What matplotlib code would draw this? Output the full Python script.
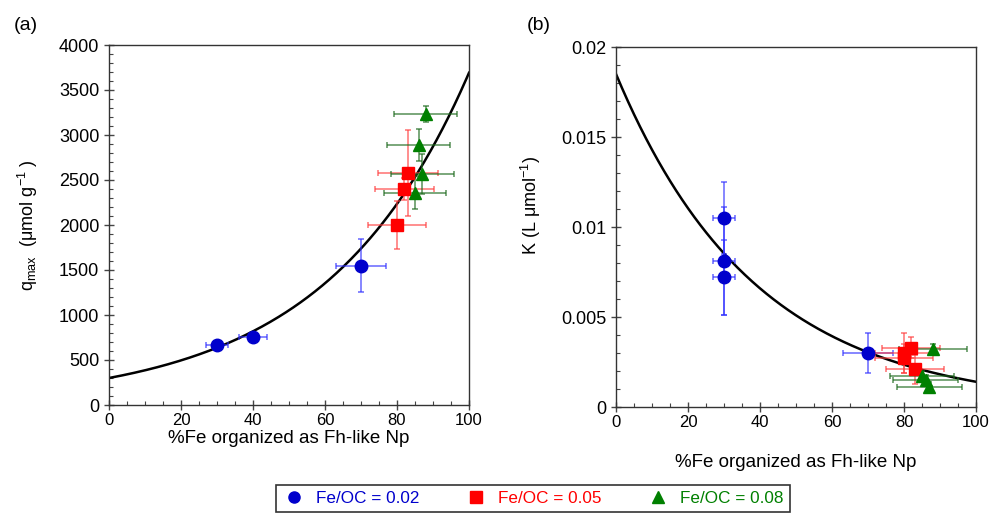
import numpy as np
import matplotlib
matplotlib.use('Agg')
import matplotlib.pyplot as plt
from matplotlib.lines import Line2D
from matplotlib.ticker import MultipleLocator, FormatStrFormatter

plt.rcParams['font.family'] = ['Liberation Sans', 'DejaVu Sans']

# --- panel (a): q_max ---
qa_blue_x = [30, 40, 70]
qa_blue_y = [670, 760, 1550]
qa_blue_xerr = [3, 4, 7]
qa_blue_yerr = [35, 20, 295]

qa_red_x = [80, 82, 83]
qa_red_y = [2000, 2400, 2580]
qa_red_xerr = [8, 8.2, 8.3]
qa_red_yerr = [265, 120, 475]

qa_green_x = [85, 86, 87, 88]
qa_green_y = [2360, 2890, 2570, 3230]
qa_green_xerr = [8.7, 8.7, 8.7, 8.8]
qa_green_yerr = [180, 175, 220, 90]

# --- panel (b): K ---
kb_blue_x = [30, 30, 30, 70]
kb_blue_y = [0.0105, 0.0081, 0.0072, 0.0030]
kb_blue_xerr = [3, 3, 3, 7]
kb_blue_yerr = [0.002, 0.003, 0.0021, 0.0011]

kb_red_x = [80, 80, 82, 83]
kb_red_y = [0.0030, 0.0027, 0.0033, 0.0021]
kb_red_xerr = [8, 8, 8, 8]
kb_red_yerr = [0.0011, 0.0008, 0.0006, 0.0008]

kb_green_x = [85, 86, 87, 88]
kb_green_y = [0.0017, 0.0015, 0.0011, 0.0032]
kb_green_xerr = [8.9, 9, 9, 9.5]
kb_green_yerr = [0.0003, 0.0003, 0.0003, 0.0003]

# exponential fits
q_fit_a, q_fit_b = 300, 0.0251
k_fit_a, k_fit_b = 0.0185, -0.0258

labels = ['Fe/OC = 0.02', 'Fe/OC = 0.05', 'Fe/OC = 0.08']
colors = ['#0000CC', '#FF0000', '#008000']
ecolors = ['#3333FF', '#FF4040', '#1E6B1E']
markers = ['o', 's', '^']
msizes = [9, 9, 9]

W, H = 992, 514
fig = plt.figure(figsize=(W / 100, H / 100), dpi=100)
ax1 = fig.add_axes([109 / W, 1 - 405 / H, 360 / W, 360 / H])
ax2 = fig.add_axes([616 / W, 1 - 407 / H, 360 / W, 360 / H])

xs = np.linspace(0, 100, 300)
ax1.plot(xs, q_fit_a * np.exp(q_fit_b * xs), color='black', lw=1.8, zorder=2)
ax2.plot(xs, k_fit_a * np.exp(k_fit_b * xs), color='black', lw=1.8, zorder=2)

series_a = [(qa_blue_x, qa_blue_y, qa_blue_xerr, qa_blue_yerr),
            (qa_red_x, qa_red_y, qa_red_xerr, qa_red_yerr),
            (qa_green_x, qa_green_y, qa_green_xerr, qa_green_yerr)]
series_b = [(kb_blue_x, kb_blue_y, kb_blue_xerr, kb_blue_yerr),
            (kb_red_x, kb_red_y, kb_red_xerr, kb_red_yerr),
            (kb_green_x, kb_green_y, kb_green_xerr, kb_green_yerr)]

for ax, series in [(ax1, series_a), (ax2, series_b)]:
    for i, (x, y, xe, ye) in enumerate(series):
        ax.errorbar(x, y, xerr=xe, yerr=ye, fmt='none', ecolor=ecolors[i],
                    elinewidth=1.1, capsize=2, capthick=1.1, alpha=0.75, zorder=3)
        ax.plot(x, y, linestyle='none', marker=markers[i], ms=msizes[i],
                color=colors[i], mec=colors[i], zorder=4)

for ax in (ax1, ax2):
    ax.set_xlim(0, 100)
    ax.xaxis.set_major_locator(MultipleLocator(20))
    ax.xaxis.set_minor_locator(MultipleLocator(5))
    ax.tick_params(which='major', direction='inout', length=7, width=1,
                   color='#444444', labelsize=13, top=False, right=False)
    ax.tick_params(axis='x', which='major', labelsize=12, pad=2)
    ax.tick_params(which='minor', direction='in', length=3, width=0.8,
                   color='#444444', top=False, right=False)
    for s in ax.spines.values():
        s.set_linewidth(1)
        s.set_color('#333333')
    ax.set_xlabel('%Fe organized as Fh-like Np', fontsize=13.5)

ax1.set_ylim(0, 4000)
ax1.yaxis.set_major_locator(MultipleLocator(500))
ax1.yaxis.set_minor_locator(MultipleLocator(100))
ax1.set_ylabel(r'q$_{\mathregular{max}}$  ($\mathregular{\mu}$mol g$^{\mathregular{-1}}$ )', fontsize=13)
ax1.xaxis.set_label_coords(0.5, -0.069)
ax1.yaxis.set_label_coords(-0.192, 0.5)

ax2.set_ylim(0, 0.02)
ax2.yaxis.set_major_locator(MultipleLocator(0.005))
ax2.yaxis.set_minor_locator(MultipleLocator(0.001))
ax2.yaxis.set_major_formatter(FormatStrFormatter('%g'))
ax2.set_ylabel(r'K (L $\mathregular{\mu}$mol$^{\mathregular{-1}}$)', fontsize=13)
ax2.xaxis.set_label_coords(0.5, -0.13)
ax2.yaxis.set_label_coords(-0.203, 0.56)

fig.text(14 / W, 1 - 25 / H, '(a)', fontsize=14, va='center')
fig.text(527 / W, 1 - 25 / H, '(b)', fontsize=14, va='center')

handles = [Line2D([], [], linestyle='none', marker=markers[i], ms=8,
                  color=colors[i]) for i in range(3)]
leg = fig.legend(handles, labels, loc='upper center', ncol=3,
                 bbox_to_anchor=(533 / W, 1 - 485 / H), frameon=True,
                 fancybox=False, edgecolor='black', fontsize=12.3,
                 columnspacing=2.6, handletextpad=0.6, handlelength=1.4,
                 borderpad=0.35, borderaxespad=0)
leg.get_frame().set_linewidth(1.2)
for t, c in zip(leg.get_texts(), colors):
    t.set_color(c)

fig.savefig('out.png', dpi=100)
